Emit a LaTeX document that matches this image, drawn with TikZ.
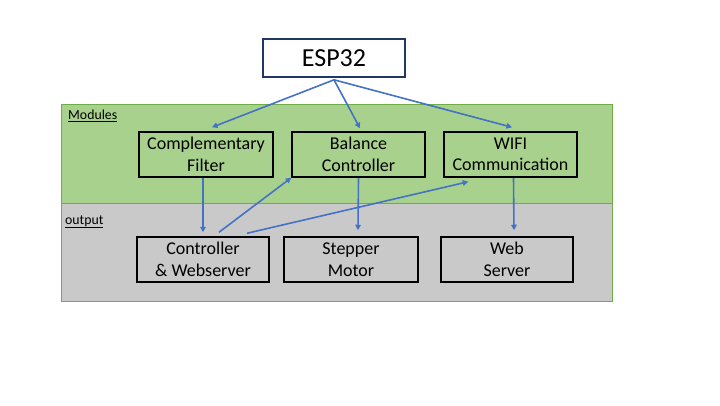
\documentclass[tikz,border=0pt]{standalone}
\usepackage{fontspec}
\setmainfont{Carlito}
\usetikzlibrary{arrows.meta,calc}
\definecolor{bandgreen}{HTML}{A9D18E}
\definecolor{bandgreenline}{HTML}{70AD47}
\definecolor{bandgray}{HTML}{C9C9C9}
\definecolor{navy}{HTML}{203864}
\definecolor{arrowblue}{HTML}{4472C4}
\tikzset{
  modbox/.style={draw=black, line width=1.5pt, minimum height=45pt, align=center, font=\fontsize{18}{21.5}\selectfont, inner sep=0pt},
  espbox/.style={draw=navy, fill=white, line width=2.6pt, minimum width=142pt, minimum height=38pt, font=\fontsize{26}{30}\selectfont, inner sep=0pt},
  conn/.style={draw=arrowblue, line width=1.6pt, -{Triangle[length=5.5pt,width=5.5pt]}},
  bandlabel/.style={anchor=base west, font=\fontsize{13.8}{15}\selectfont, inner sep=0pt}
}
\begin{document}
\begin{tikzpicture}[x=1pt,y=-1pt]
\useasboundingbox (0,0) rectangle (720,405);
% bands
\path[fill=bandgreen] (61,104) rectangle (612,203);
\path[fill=bandgray] (61,203) rectangle (612,301);
\draw[bandgreenline, line width=1pt] (61,104) rectangle (612,301);
\draw[bandgreenline, line width=0.8pt] (61,203) -- (612,203);
\node[bandlabel] (modlbl) at (68,119.5) {\underline{Modules}};
\node[bandlabel] (outlbl) at (65,224) {\underline{output}};
% nodes
\node[espbox] (esp) at (334,58) {ESP32};
\node[modbox, minimum width=134pt] (cf) at (206,154.5) {Complementary\\Filter};
\node[modbox, minimum width=133pt] (bc) at (358.5,154.5) {Balance\\Controller};
\node[modbox, minimum width=133pt] (wifi) at (510.5,154.5) {WIFI\\Communication};
\node[modbox, minimum width=132pt] (ctl) at (203,259.5) {Controller\\\& Webserver};
\node[modbox, minimum width=134pt] (stp) at (351,259.5) {Stepper\\Motor};
\node[modbox, minimum width=132pt] (web) at (507,259.5) {Web\\Server};
% connectors
\draw[conn] ($(esp.south)+(0,1.5)$) -- ($(cf.north)+(6,-4)$);
\draw[conn] ($(esp.south)+(0,1.5)$) -- ($(bc.north)+(1.5,-3)$);
\draw[conn] ($(esp.south)+(0,1.5)$) -- ($(wifi.north)+(1.5,-4)$);
\draw[conn] ($(cf.south)+(-3,0)$) -- ($(ctl.north)+(0,-4)$);
\draw[conn] ($(ctl.north)+(16,-4)$) -- ($(bc.south west)+(0,0)$);
\draw[conn] ($(ctl.north)+(44,-3)$) -- ($(wifi.south west)+(25,4)$);
\draw[conn] (bc.south) -- ($(stp.north)+(7,-6)$);
\draw[conn] ($(wifi.south)+(3,0)$) -- ($(web.north)+(7,-6)$);
\end{tikzpicture}
\end{document}
